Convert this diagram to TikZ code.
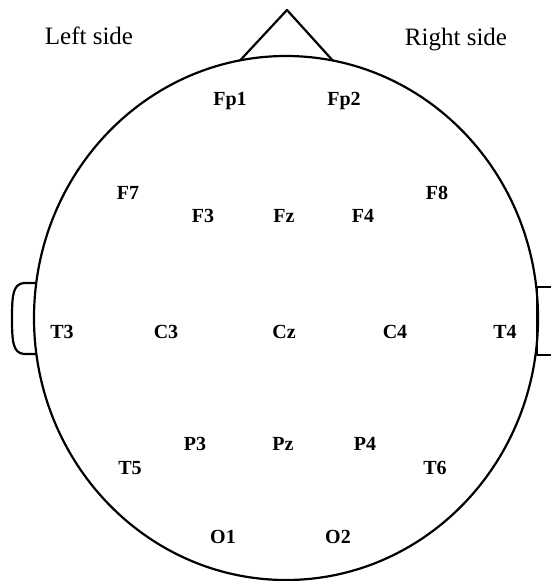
\documentclass[tikz,border=0pt]{standalone}
\usepackage{fontspec}
\setmainfont{Liberation Serif}
\usepackage{tikz}

\begin{document}
\begin{tikzpicture}[x=1pt, y=-1pt,
    elec/.style={font=\fontsize{20}{20}\selectfont\bfseries, inner sep=0pt, text height=13pt, text depth=0pt},
    sidelabel/.style={font=\fontsize{25}{25}\selectfont, inner sep=0pt, text height=17pt, text depth=0pt},
    outline/.style={line width=2.2pt, line join=round}]
    \useasboundingbox (0,0) rectangle (551,581);

    % head
    \draw[outline] (286,318) ellipse [x radius=252, y radius=262];

    % nose
    \coordinate (noseL) at ({286+252*cos(100.5)},{318-262*sin(100.5)});
    \coordinate (noseR) at ({286+252*cos(79.3)},{318-262*sin(79.3)});
    \coordinate (noseTip) at (287,10);
    \draw[outline] (noseL) -- (noseTip) -- (noseR);

    % ears
    \coordinate (earLt) at ({286+252*cos(172.3)},{318-262*sin(172.3)});
    \coordinate (earLb) at ({286+252*cos(187.9)},{318-262*sin(187.9)});
    \draw[outline] (earLt) -- (24,283) .. controls (13,284) and (12,295) .. (12,318)
        .. controls (12,342) and (13,353) .. (24,354) -- (earLb);
    \draw[outline] (551,287) -- (537,287) -- (537,355) -- (551,355);

    % sides
    \node[sidelabel] (left) at (89,36) {Left side};
    \node[sidelabel] (right) at (456,37) {Right side};

    % frontal
    \node[elec] (Fp1) at (230,99) {Fp1};
    \node[elec] (Fp2) at (344,99) {Fp2};
    \node[elec] (F7) at (128,193) {F7};
    \node[elec] (F8) at (437,193) {F8};
    \node[elec] (F3) at (203,216) {F3};
    \node[elec] (Fz) at (284,216) {Fz};
    \node[elec] (F4) at (363,216) {F4};

    % central
    \node[elec] (T3) at (62,332) {T3};
    \node[elec] (C3) at (166,332) {C3};
    \node[elec] (Cz) at (284,332) {Cz};
    \node[elec] (C4) at (395,332) {C4};
    \node[elec] (T4) at (505,332) {T4};

    % parietal
    \node[elec] (P3) at (195,444) {P3};
    \node[elec] (Pz) at (283,444) {Pz};
    \node[elec] (P4) at (365,444) {P4};
    \node[elec] (T5) at (130,468) {T5};
    \node[elec] (T6) at (435,468) {T6};

    % occipital
    \node[elec] (O1) at (223,537) {O1};
    \node[elec] (O2) at (338,537) {O2};
\end{tikzpicture}
\end{document}
